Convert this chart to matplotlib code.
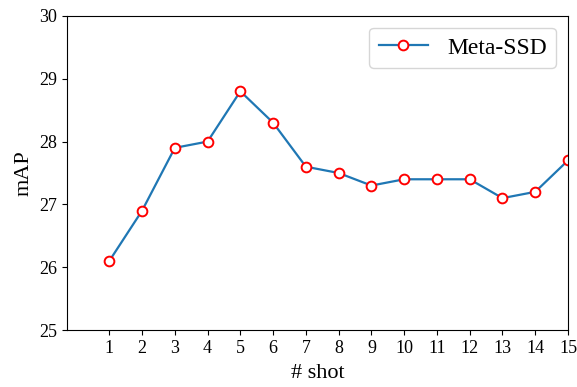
import matplotlib
matplotlib.use("Agg")
import matplotlib.pyplot as plt

shots = list(range(1, 16))
map_values = [26.1, 26.9, 27.9, 28.0, 28.8, 28.3, 27.6, 27.5, 27.3, 27.4, 27.4, 27.4, 27.1, 27.2, 27.7]
series_label = "Meta-SSD"

plt.rcParams['font.family'] = ['Liberation Serif', 'DejaVu Serif']

fig = plt.figure(figsize=(5.77, 3.87), dpi=100)
ax = fig.add_axes([0.1156, 0.147, 0.8688, 0.812])
ax.plot(shots, map_values, color='#1f77b4', linewidth=1.6, marker='o',
        markersize=7, markerfacecolor='white', markeredgecolor='red',
        markeredgewidth=1.4, label=series_label)
ax.set_xlim(-0.3, 15)
ax.set_ylim(25, 30)
ax.set_xticks(shots)
ax.set_yticks([25, 26, 27, 28, 29, 30])
ax.tick_params(labelsize=13)
ax.set_xlabel('# shot', fontsize=16, labelpad=5)
ax.set_ylabel('mAP', fontsize=16)
ax.legend(loc='upper right', fontsize=17, handlelength=2.1)
fig.savefig('out.png', dpi=100)
